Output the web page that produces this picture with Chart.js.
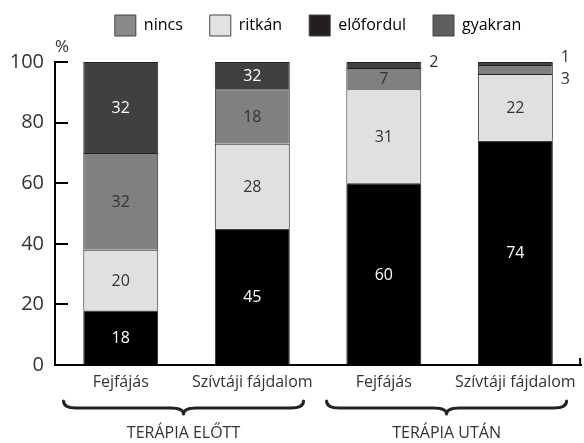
<!DOCTYPE html>
<html lang="hu">
<head>
<meta charset="UTF-8">
<title>Fejfájás és szívtáji fájdalom terápia előtt és után</title>
<script src="https://cdn.jsdelivr.net/npm/chart.js"></script>
<style>
  html, body { margin: 0; padding: 0; background: #fff; }
  #wrap { width: 584px; height: 443px; }
</style>
</head>
<body>
<div id="wrap"><canvas id="chart" width="584" height="443"></canvas></div>
<script>
// categories and groups
const categories = ['Fejfájás', 'Szívtáji fájdalom', 'Fejfájás', 'Szívtáji fájdalom'];
const groups = ['TERÁPIA ELŐTT', 'TERÁPIA UTÁN'];
const yTicks = [0, 20, 40, 60, 80, 100];

// segment heights as drawn, bottom to top (%)
const elofordul = [18, 45, 60, 74];
const ritkan = [20, 28, 31, 22];
const nincs = [32, 18, 7, 3];
const gyakran = [30, 9, 2, 1];

// numbers printed on the segments
const elofordulText = ['18', '45', '60', '74'];
const ritkanText = ['20', '28', '31', '22'];
const nincsText = ['32', '18', '7', '3'];
const gyakranText = ['32', '32', '2', '1'];

// legend order as in the picture
const legendOrder = ['nincs', 'ritkán', 'előfordul', 'gyakran'];
const legendColors = { 'nincs': '#8a8a8a', 'ritkán': '#e2e2e2', 'előfordul': '#231f20', 'gyakran': '#5e5e5e' };

const FONT = '"Open Sans", "DejaVu Sans", sans-serif';
const TEXT = '#333';
const PLOT_TOP = 62; // where the 100% line sits

// numbers inside / beside the bar segments
const valueLabels = {
  id: 'valueLabels',
  afterDatasetsDraw(chart) {
    const ctx = chart.ctx;
    ctx.save();
    ctx.font = '16px ' + FONT;
    ctx.textBaseline = 'middle';
    chart.data.datasets.forEach((ds, di) => {
      const meta = chart.getDatasetMeta(di);
      meta.data.forEach((bar, i) => {
        const txt = ds.valueText[i];
        const h = Math.abs(bar.base - bar.y);
        if (h > 14) {
          ctx.textAlign = 'center';
          ctx.fillStyle = ds.textColor;
          ctx.fillText(txt, bar.x, (bar.y + bar.base) / 2 + 1);
        } else {
          // small segment: write it to the right of the bar
          ctx.textAlign = 'left';
          ctx.fillStyle = TEXT;
          const x = bar.x + bar.width / 2 + 8;
          let y;
          if (ds.label === 'gyakran') {
            const below = chart.getDatasetMeta(di - 1).data[i];
            const belowSmall = Math.abs(below.base - below.y) <= 14;
            y = belowSmall ? bar.y - 5 : bar.y;
          } else {
            y = bar.base + 5;
          }
          ctx.fillText(txt, x, y);
        }
      });
    });
    ctx.restore();
  }
};

// make room between the legend and the plot
const legendGap = {
  id: 'legendGap',
  beforeLayout(chart) {
    const lg = chart.legend;
    if (lg && !lg._gapPatched) {
      const fit = lg.fit;
      lg.fit = function () {
        fit.call(this);
        this.height = PLOT_TOP - chart.options.layout.padding.top;
      };
      lg._gapPatched = true;
    }
  }
};

// inward y ticks, % sign, braces and group names
const decorations = {
  id: 'decorations',
  afterDraw(chart) {
    const ctx = chart.ctx;
    const area = chart.chartArea;
    const ys = chart.scales.y;
    const xs = chart.scales.x;
    ctx.save();
    ctx.strokeStyle = '#000';
    ctx.lineWidth = 2;
    yTicks.forEach(v => {
      if (v === 0) return;
      const py = Math.round(ys.getPixelForValue(v));
      ctx.beginPath();
      ctx.moveTo(area.left, py);
      ctx.lineTo(area.left + 13, py);
      ctx.stroke();
    });
    // small tick at the right end of the x axis
    ctx.beginPath();
    ctx.moveTo(area.right - 1, area.bottom);
    ctx.lineTo(area.right - 1, area.bottom - 7);
    ctx.stroke();

    ctx.fillStyle = TEXT;
    ctx.font = '17px ' + FONT;
    ctx.textAlign = 'center';
    ctx.textBaseline = 'middle';
    ctx.fillText('%', area.left + 7, area.top - 15);

    // curly braces under each pair of bars
    ctx.strokeStyle = '#222';
    ctx.lineWidth = 3;
    ctx.lineCap = 'round';
    ctx.lineJoin = 'round';
    groups.forEach((name, g) => {
      const x0 = xs.getPixelForValue(2 * g);
      const x1 = xs.getPixelForValue(2 * g + 1);
      const mid = (x0 + x1) / 2 - 3;
      const left = mid - 120, right = mid + 120;
      const y0 = area.bottom + 38, d = 5, q = 13;
      ctx.beginPath();
      ctx.moveTo(left, y0 - 2);
      ctx.quadraticCurveTo(left, y0 + d, left + q, y0 + d);
      ctx.lineTo(mid - q, y0 + d);
      ctx.quadraticCurveTo(mid, y0 + d, mid, y0 + 2 * d + 1);
      ctx.quadraticCurveTo(mid, y0 + d, mid + q, y0 + d);
      ctx.lineTo(right - q, y0 + d);
      ctx.quadraticCurveTo(right, y0 + d, right, y0 - 2);
      ctx.stroke();

      ctx.font = '16px ' + FONT;
      ctx.fillStyle = TEXT;
      ctx.fillText(name, mid, area.bottom + 68);
    });
    ctx.restore();
  }
};

const datasets = [
  { label: 'előfordul', data: elofordul, valueText: elofordulText, textColor: '#fff', backgroundColor: '#000' },
  { label: 'ritkán', data: ritkan, valueText: ritkanText, textColor: TEXT, backgroundColor: '#e0e0e0' },
  { label: 'nincs', data: nincs, valueText: nincsText, textColor: TEXT, backgroundColor: '#808080' },
  { label: 'gyakran', data: gyakran, valueText: gyakranText, textColor: '#fff', backgroundColor: '#404040' }
].map(ds => Object.assign(ds, {
  borderColor: '#222',
  borderWidth: 1,
  barPercentage: 0.57,
  categoryPercentage: 1
}));

new Chart(document.getElementById('chart'), {
  type: 'bar',
  data: { labels: categories, datasets: datasets },
  options: {
    responsive: false,
    animation: false,
    layout: { padding: { left: 0, right: 1, top: -12, bottom: 0 } },
    plugins: {
      tooltip: { enabled: false },
      legend: {
        position: 'top',
        fullSize: false,
        labels: {
          boxWidth: 21,
          boxHeight: 21,
          padding: 27,
          color: TEXT,
          font: { size: 16, family: FONT },
          generateLabels(chart) {
            return legendOrder.map(name => ({
              text: name,
              fillStyle: legendColors[name],
              strokeStyle: '#444',
              lineWidth: 1,
              hidden: false,
              datasetIndex: chart.data.datasets.findIndex(d => d.label === name)
            }));
          }
        }
      }
    },
    scales: {
      x: {
        stacked: true,
        grid: { display: false, drawTicks: false },
        border: { display: true, color: '#000', width: 2 },
        ticks: { color: TEXT, padding: 8, font: { size: 16, family: FONT } },
        afterFit(scale) { scale.height = 78; }
      },
      y: {
        stacked: true,
        min: 0,
        max: 100,
        grid: { display: false, drawTicks: false },
        border: { display: true, color: '#000', width: 2 },
        ticks: { stepSize: 20, color: TEXT, padding: 11, font: { size: 20, family: FONT } },
        afterFit(scale) { scale.width = 55; }
      }
    }
  },
  plugins: [legendGap, valueLabels, decorations]
});
</script>
</body>
</html>
